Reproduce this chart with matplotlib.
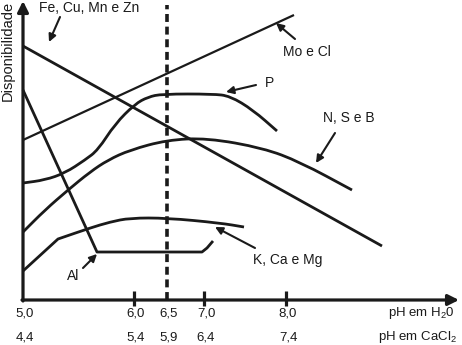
import matplotlib
matplotlib.use("Agg")
import matplotlib.pyplot as plt
from matplotlib.path import Path
from matplotlib.patches import PathPatch

plt.rcParams['font.family'] = ['Liberation Sans', 'DejaVu Sans']
plt.rcParams['mathtext.fontset'] = 'custom'
plt.rcParams['mathtext.rm'] = 'Liberation Sans'

# schematic units: x = distance along pH axis, y = relative availability
fe_x = [0, 359]
fe_y = [254, 54]
mo_x = [0, 271]
mo_y = [160, 285]
al_x = [0, 74, 179, 184, 190]
al_y = [210, 48, 48, 52, 59]
# repeated point = sharp bend
k_x = [0, 35, 35, 67, 87, 107, 144, 197, 221]
k_y = [29, 61, 61, 72, 78, 82, 82, 77, 73]
n_x = [0, 22, 45, 67, 85, 107, 144, 184, 240, 277, 329]
n_y = [68, 90, 110, 128, 140, 150, 160, 162, 152, 138, 110]
p_x = [0, 22, 42, 62, 75, 92, 112, 125, 139, 190, 207, 230, 254]
p_y = [117, 120, 127, 140, 150, 176, 196, 203, 206, 206, 204, 190, 169]

tick_pos = [0, 111, 144, 181, 263]
ph_h2o = ["5,0", "6,0", "6,5", "7,0", "8,0"]
ph_cacl2 = ["4,4", "5,4", "5,9", "6,4", "7,4"]
major_ticks = [111, 181, 263]
ph_ref = 144

# (label, text xy, arrow start, arrow head)
labels = [
    ("Fe, Cu, Mn e Zn", (16, 292), (37, 283), (26, 258)),
    ("Mo e Cl", (260, 248), (272, 261), (253, 277)),
    ("P", (242, 217), (233, 215), (203, 208)),
    ("N, S e B", (300, 182), (312, 167), (293, 137)),
    ("K, Ca e Mg", (230, 40), (232, 52), (192, 73)),
    ("Al", (44, 24), (60, 32), (74, 46)),
]

INK = '#1a1a1a'


def smooth_curve(xs, ys, lw=2.0):
    # quadratic bezier through midpoints, controls at the points
    pts = list(zip(xs, ys))
    verts = [pts[0]]
    codes = [Path.MOVETO]
    mid = lambda a, b: ((a[0] + b[0]) / 2, (a[1] + b[1]) / 2)
    verts.append(mid(pts[0], pts[1]))
    codes.append(Path.LINETO)
    for i in range(1, len(pts) - 1):
        verts += [pts[i], mid(pts[i], pts[i + 1])]
        codes += [Path.CURVE3, Path.CURVE3]
    verts.append(pts[-1])
    codes.append(Path.LINETO)
    ax.add_patch(PathPatch(Path(verts, codes), fill=False, edgecolor=INK,
                           lw=lw, capstyle='butt', joinstyle='round'))


fig = plt.figure(figsize=(4.62, 3.45), dpi=100)
ax = fig.add_axes([0, 0, 1, 1])
ax.set_xlim(-23, 439)
ax.set_ylim(-45, 300)
ax.axis('off')

lw = 2.0
ax.plot(fe_x, fe_y, color=INK, lw=lw, solid_capstyle='butt')
ax.plot(mo_x, mo_y, color=INK, lw=1.6, solid_capstyle='butt')
ax.plot(al_x, al_y, color=INK, lw=lw, solid_capstyle='butt')
smooth_curve(k_x, k_y)
smooth_curve(n_x, n_y)
smooth_curve(p_x, p_y)

# pH reference line
ax.plot([ph_ref, ph_ref], [0, 295], color=INK, lw=2.6, dashes=(2.2, 1.3))

# axes with arrows
arr = dict(arrowstyle='-|>', lw=2.3, color=INK, mutation_scale=16,
           shrinkA=0, shrinkB=0)
ax.annotate('', xy=(436, 0), xytext=(-1, 0), arrowprops=arr)
ax.annotate('', xy=(0, 299), xytext=(0, -1), arrowprops=arr)
ax.vlines(major_ticks, -6, 9, color=INK, lw=2.3)

for x, a, b in zip(tick_pos, ph_h2o, ph_cacl2):
    ax.text(x + 2, -13, a, ha='center', va='center', fontsize=9.5, color=INK)
    ax.text(x + 2, -37, b, ha='center', va='center', fontsize=9.5, color=INK)
ax.text(432, -13, 'pH em H$_2$0', ha='right', va='center', fontsize=9.5, color=INK)
ax.text(355, -37, 'pH em CaCl$_2$', ha='left', va='center', fontsize=9.5, color=INK)

ax.text(-15.5, 249, 'Disponibilidade', rotation=90, ha='center', va='center',
        fontsize=10.5, color=INK)

for txt, pos, start, head in labels:
    ax.text(pos[0], pos[1], txt, ha='left', va='center', fontsize=10, color=INK)
    ax.annotate('', xy=head, xytext=start,
                arrowprops=dict(arrowstyle='-|>', lw=1.5, color=INK,
                                mutation_scale=11, shrinkA=0, shrinkB=0))

fig.savefig('out.png', dpi=100)
